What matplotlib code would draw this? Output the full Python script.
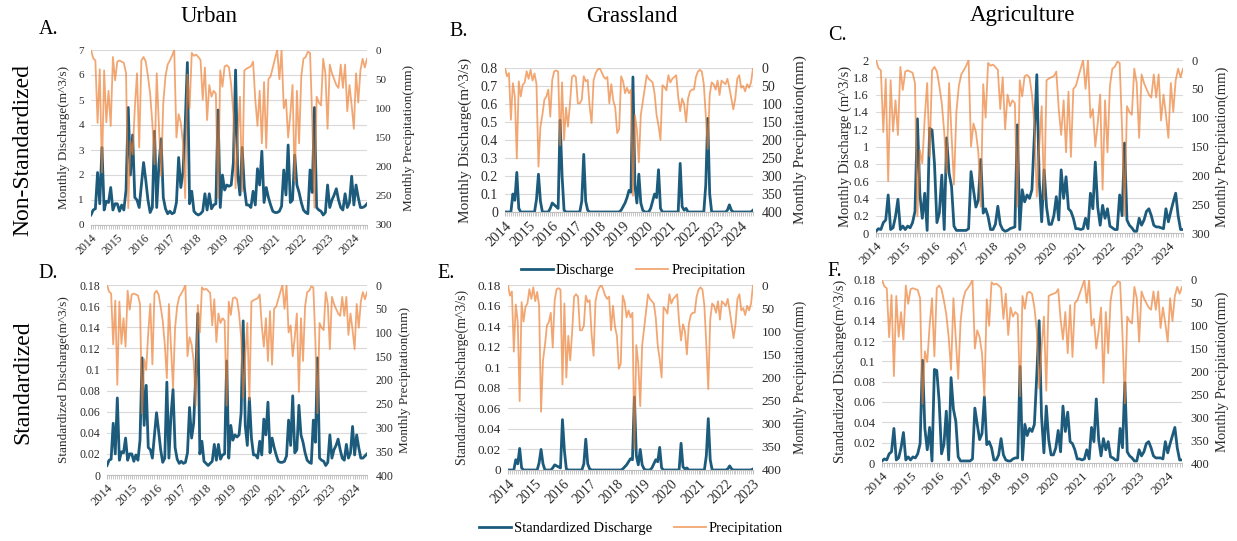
import numpy as np
import matplotlib.pyplot as plt
from matplotlib.lines import Line2D

plt.rcParams['font.family'] = ['Liberation Serif', 'DejaVu Serif']

W, H = 1237, 541

years = [str(y) for y in range(2014, 2025)]
years_e = [str(y) for y in range(2014, 2024)]

# monthly precipitation (mm), Jan 2014 - Jul 2024
# urban and agriculture panels share the same rainfall record
precip_ua = [0, 14, 18, 125, 33, 210, 35, 124, 70, 130, 12, 52,
             20, 18, 20, 22, 40, 271, 156, 179, 100, 40, 167, 18,
             12, 20, 45, 75, 125, 196, 40, 130, 216, 90, 45, 25,
             18, 10, 0, 150, 110, 125, 160, 254, 42, 100, 5, 10,
             8, 12, 17, 85, 30, 120, 60, 80, 70, 75, 254, 35,
             63, 28, 26, 30, 60, 110, 237, 150, 80, 242, 35, 32,
             30, 28, 20, 85, 130, 70, 160, 55, 168, 50, 45, 30,
             15, 0, 50, 0, 100, 85, 150, 110, 60, 225, 70, 160,
             45, 15, 12, 3, 5, 120, 270, 80, 90, 95, 15, 40,
             135, 25, 40, 50, 60, 65, 25, 65, 25, 105, 60, 95,
             135, 40, 90, 35, 15, 30, 15]

precip_grass = [0, 23, 14, 144, 42, 79, 251, 37, 79, 47, 40, 9,
                30, 5, 35, 15, 45, 274, 163, 130, 88, 80, 60, 135,
                33, 9, 7, 10, 215, 40, 200, 110, 163, 100, 25, 20,
                25, 98, 98, 88, 23, 37, 33, 107, 153, 35, 15, 5,
                0, 10, 23, 30, 25, 98, 45, 90, 110, 181, 170, 23,
                37, 70, 55, 70, 60, 355, 130, 170, 262, 130, 94, 57,
                20, 30, 35, 40, 71, 130, 160, 200, 48, 53, 62, 20,
                40, 30, 25, 20, 80, 120, 85, 100, 150, 85, 65, 60,
                60, 25, 10, 5, 10, 45, 130, 225, 75, 40, 45, 60,
                35, 75, 35, 40, 45, 30, 55, 85, 115, 85, 30, 20,
                55, 50, 65, 45, 55, 40, 0]

# monthly discharge (m^3/s)
q_urban = [0.4, 0.6, 0.65, 2.1, 0.85, 3.1, 0.6, 0.95, 0.9, 1.5, 0.6, 0.85,
           0.85, 0.55, 0.8, 0.6, 1.4, 4.7, 2.0, 3.6, 1.1, 1.0, 0.7, 1.6,
           2.5, 1.8, 1.0, 0.5, 0.7, 3.75, 0.7, 2.4, 3.45, 1.1, 0.65, 0.45,
           0.55, 0.45, 0.5, 0.9, 2.7, 1.5, 2.1, 4.0, 6.5, 0.85, 1.35, 0.55,
           0.45, 0.4, 0.45, 0.55, 1.25, 0.6, 1.25, 0.65, 0.8, 0.85, 4.6, 0.7,
           2.0, 1.4, 1.6, 1.55, 1.6, 2.5, 6.2, 2.0, 1.2, 3.1, 1.5, 0.8,
           0.8, 0.7, 1.35, 0.8, 2.25, 1.6, 2.95, 0.9, 1.5, 1.1, 0.8, 0.55,
           0.5, 0.5, 0.55, 0.75, 2.2, 1.2, 3.2, 0.9, 1.0, 2.8, 1.6, 1.3,
           0.9, 0.6, 0.5, 0.45, 2.2, 1.3, 4.7, 0.7, 0.6, 0.55, 0.4, 0.5,
           1.6, 0.7, 1.0, 1.2, 1.45, 1.0, 0.7, 0.6, 1.25, 0.7, 0.9, 1.95,
           0.8, 1.6, 1.1, 0.7, 0.7, 0.75, 0.85]

q_grass = [0, 0, 0, 0, 0.1, 0.065, 0.22, 0.02, 0, 0, 0, 0,
           0, 0, 0, 0, 0.07, 0.21, 0.06, 0, 0, 0, 0, 0.02,
           0.05, 0.04, 0.03, 0.02, 0.51, 0.2, 0.01, 0, 0, 0, 0, 0,
           0, 0, 0, 0.06, 0.32, 0.06, 0.01, 0, 0, 0, 0, 0,
           0, 0, 0, 0, 0, 0, 0, 0, 0, 0, 0, 0.01,
           0.03, 0.05, 0.08, 0.12, 0.11, 0.75, 0.15, 0.05, 0.21, 0.05, 0.01, 0,
           0, 0, 0.02, 0.06, 0.1, 0.08, 0.235, 0.02, 0, 0, 0, 0,
           0, 0, 0, 0, 0, 0.27, 0.03, 0.01, 0.02, 0, 0, 0,
           0, 0, 0, 0, 0, 0, 0.15, 0.52, 0.1, 0, 0, 0,
           0, 0, 0, 0, 0, 0.01, 0.04, 0.01, 0, 0, 0, 0,
           0, 0, 0, 0, 0, 0, 0.01]

q_agri = [0.02, 0.05, 0.04, 0.12, 0.15, 0.44, 0.04, 0.06, 0.19, 0.39, 0.04, 0.08,
          0.04, 0.08, 0.06, 0.12, 0.25, 1.32, 0.45, 0.17, 0.46, 0.03, 1.21, 1.19,
          0.8, 0.12, 0.23, 0.67, 0.04, 1.1, 0.69, 0.54, 0.08, 0.03, 0.03, 0.03,
          0.03, 0.03, 0.05, 0.71, 0.5, 0.3, 0.38, 0.85, 0.23, 0.28, 0.19, 0.04,
          0.04, 0.1, 0.31, 0.1, 0.04, 0.02, 0.03, 0.05, 0.06, 0.07, 1.25, 0.04,
          0.5, 0.36, 0.44, 0.4, 0.5, 1.13, 1.83, 0.6, 0.13, 0.73, 0.3, 0.1,
          0.1, 0.2, 0.42, 0.15, 0.73, 0.4, 0.65, 0.28, 0.25, 0.17, 0.05, 0.05,
          0.04, 0.05, 0.17, 0.05, 0.46, 0.28, 0.82, 0.3, 0.09, 0.32, 0.17, 0.28,
          0.08, 0.06, 0.04, 0.04, 0.44, 0.2, 1.04, 0.15, 0.09, 0.06, 0.02, 0.02,
          0.17, 0.09, 0.15, 0.25, 0.28, 0.2, 0.09, 0.07, 0.07, 0.06, 0.05, 0.28,
          0.13, 0.25, 0.36, 0.46, 0.2, 0.04, 0.04]

# standardized discharge (m^3/s per unit area)
sq_urban = [0.009, 0.014, 0.015, 0.049, 0.020, 0.073, 0.014, 0.022, 0.021, 0.035, 0.014, 0.020,
            0.020, 0.013, 0.019, 0.014, 0.033, 0.111, 0.047, 0.085, 0.026, 0.024, 0.016, 0.038,
            0.059, 0.042, 0.024, 0.012, 0.016, 0.088, 0.016, 0.056, 0.081, 0.026, 0.015, 0.011,
            0.013, 0.011, 0.012, 0.021, 0.064, 0.035, 0.049, 0.094, 0.153, 0.020, 0.032, 0.013,
            0.011, 0.009, 0.011, 0.013, 0.029, 0.014, 0.029, 0.015, 0.019, 0.020, 0.108, 0.016,
            0.047, 0.033, 0.038, 0.036, 0.038, 0.059, 0.146, 0.047, 0.028, 0.073, 0.035, 0.019,
            0.019, 0.016, 0.032, 0.019, 0.053, 0.038, 0.069, 0.021, 0.035, 0.026, 0.019, 0.013,
            0.012, 0.012, 0.013, 0.018, 0.052, 0.028, 0.075, 0.021, 0.024, 0.066, 0.038, 0.031,
            0.021, 0.014, 0.012, 0.011, 0.052, 0.031, 0.111, 0.016, 0.014, 0.013, 0.009, 0.012,
            0.038, 0.016, 0.024, 0.028, 0.034, 0.024, 0.016, 0.014, 0.029, 0.016, 0.021, 0.046,
            0.019, 0.038, 0.026, 0.016, 0.016, 0.018, 0.020]

sq_grass = [0, 0, 0, 0, 0.010, 0.006, 0.021, 0.002, 0, 0, 0, 0,
            0, 0, 0, 0, 0.007, 0.020, 0.006, 0, 0, 0, 0, 0.002,
            0.005, 0.004, 0.003, 0.002, 0.049, 0.019, 0.001, 0, 0, 0, 0, 0,
            0, 0, 0, 0.006, 0.030, 0.006, 0.001, 0, 0, 0, 0, 0,
            0, 0, 0, 0, 0, 0, 0, 0, 0, 0, 0, 0.001,
            0.003, 0.005, 0.008, 0.011, 0.010, 0.071, 0.014, 0.005, 0.020, 0.005, 0.001, 0,
            0, 0, 0.002, 0.006, 0.010, 0.008, 0.022, 0.002, 0, 0, 0, 0,
            0, 0, 0, 0, 0, 0.026, 0.003, 0.001, 0.002, 0, 0, 0,
            0, 0, 0, 0, 0, 0, 0.014, 0.050, 0.010, 0, 0, 0,
            0, 0, 0, 0, 0, 0.001, 0.004, 0.001, 0, 0, 0, 0,
            0, 0, 0, 0, 0, 0, 0.001]

sq_agri = [0.002, 0.004, 0.003, 0.009, 0.011, 0.034, 0.003, 0.005, 0.015, 0.030, 0.003, 0.006,
           0.003, 0.006, 0.005, 0.009, 0.019, 0.101, 0.034, 0.013, 0.035, 0.002, 0.092, 0.091,
           0.061, 0.009, 0.018, 0.051, 0.003, 0.084, 0.053, 0.041, 0.006, 0.002, 0.002, 0.002,
           0.002, 0.002, 0.004, 0.054, 0.038, 0.023, 0.029, 0.065, 0.018, 0.021, 0.015, 0.003,
           0.003, 0.008, 0.024, 0.008, 0.003, 0.002, 0.002, 0.004, 0.005, 0.005, 0.095, 0.003,
           0.038, 0.027, 0.034, 0.031, 0.038, 0.086, 0.140, 0.046, 0.010, 0.056, 0.023, 0.008,
           0.008, 0.015, 0.032, 0.011, 0.056, 0.031, 0.050, 0.021, 0.019, 0.013, 0.004, 0.004,
           0.003, 0.004, 0.013, 0.004, 0.035, 0.021, 0.063, 0.023, 0.007, 0.024, 0.013, 0.021,
           0.006, 0.005, 0.003, 0.003, 0.034, 0.015, 0.079, 0.011, 0.007, 0.005, 0.002, 0.002,
           0.013, 0.007, 0.011, 0.019, 0.021, 0.015, 0.007, 0.005, 0.005, 0.005, 0.004, 0.021,
           0.010, 0.019, 0.027, 0.035, 0.015, 0.003, 0.003]

BLUE = '#1d5b7c'
ORANGE = '#ed7d31'
GRID = '#d9d9d9'
TXT = '#2b2b2b'


def fmt(v):
    s = f'{v:.2f}'.rstrip('0').rstrip('.')
    return s


def panel(fig, l, t, r, b, q, p, ymax, ystep, pmax, fs, lab, lab_x, rlab, rlab_x,
          fs_lab, xticks=None, xlabels=years):
    ax = fig.add_axes([l / W, 1 - b / H, (r - l) / W, (b - t) / H])
    x = np.arange(len(q))
    ax.plot(x, q, color=BLUE, lw=2.0, solid_joinstyle='round')
    ax.set_xlim(0, len(q) - 1)
    ax.set_ylim(0, ymax)
    yt = np.arange(0, ymax + ystep / 2, ystep)
    ax.set_yticks(yt)
    ax.set_yticklabels([fmt(v) for v in yt], fontsize=fs, color=TXT)
    ax.yaxis.grid(True, color=GRID, lw=0.8)
    ax.set_axisbelow(True)
    if xticks is None:
        xticks = np.arange(0, len(q), 12)
    ax.set_xticks(xticks)
    ax.set_xticklabels(xlabels, rotation=45, ha='right', rotation_mode='anchor',
                       fontsize=fs + 0.5, color=TXT)
    ax.set_xticks(x, minor=True)
    ax.tick_params(axis='x', which='both', length=3, color='#bfbfbf', pad=2)
    ax.tick_params(axis='y', length=0, pad=5)
    for s in ['top', 'left', 'right']:
        ax.spines[s].set_visible(False)
    ax.spines['bottom'].set_color('#bfbfbf')

    ax2 = ax.twinx()
    ax2.plot(x, p, color=ORANGE, lw=1.3, alpha=0.68)
    ax2.set_ylim(pmax, 0)
    pt = np.arange(0, pmax + 1, 50)
    ax2.set_yticks(pt)
    ax2.set_yticklabels([str(v) for v in pt], fontsize=fs, color=TXT)
    ax2.tick_params(axis='y', length=0, pad=6)
    for s in ax2.spines.values():
        s.set_visible(False)

    yc = 1 - (t + b) / 2 / H
    fig.text(lab_x / W, yc, lab, rotation=90, ha='center', va='center',
             fontsize=fs_lab, color=TXT)
    fig.text(rlab_x / W, yc, rlab, rotation=90, ha='center', va='center',
             fontsize=fs_lab, color=TXT)
    return ax


fig = plt.figure(figsize=(W / 100, H / 100), dpi=100)

rl = 'Monthly Precipitation(mm)'
panel(fig, 91, 50, 367, 225, q_urban, precip_ua, 7, 1, 300, 8,
      'Monthly Discharge(m^3/s)', 64, rl, 409, 9.5)
panel(fig, 505, 68, 753, 212, q_grass, precip_grass, 0.8, 0.1, 400, 10,
      'Monthly Discharge(m^3/s)', 465, rl, 800, 11)
panel(fig, 876, 60, 1183, 233, q_agri, precip_ua, 2, 0.2, 300, 9,
      'Monthly Discharge (m^3/s)', 845, rl, 1222, 10.5)
panel(fig, 107, 285, 367, 475, sq_urban, precip_ua, 0.18, 0.02, 400, 8.5,
      'Standardized Discharge(m^3/s)', 64, rl, 405, 9.5)
panel(fig, 508, 285, 753, 470, sq_grass, precip_grass, 0.18, 0.02, 400, 9.5,
      'Standardized Discharge(m^3/s)', 462, rl, 800, 10,
      xticks=np.linspace(0, len(sq_grass) - 1, 10), xlabels=years_e)
panel(fig, 882, 280, 1182, 463, sq_agri, precip_ua, 0.18, 0.02, 400, 9,
      'Standardized Discharge(m^3/s)', 840, rl, 1222, 10.5)

# column and row headings
for txt, xc in [('Urban', 209), ('Grassland', 632), ('Agriculture', 1022)]:
    fig.text(xc / W, 1 - 16 / H, txt, ha='center', va='center', fontsize=16.5)
for txt, xc, yc in [('A.', 49, 30), ('B.', 459, 32), ('C.', 837, 36),
                    ('D.', 48, 274), ('E.', 446, 274), ('F.', 835, 272)]:
    fig.text(xc / W, 1 - yc / H, txt, ha='center', va='center', fontsize=14.5)
fig.text(23 / W, 1 - 150 / H, 'Non-Standardized', rotation=90, ha='center',
         va='center', fontsize=17)
fig.text(23 / W, 1 - 382 / H, 'Standardized', rotation=90, ha='center',
         va='center', fontsize=17)

h_q = Line2D([], [], color=BLUE, lw=2)
h_p = Line2D([], [], color=ORANGE, lw=1.3, alpha=0.68)
fig.legend([h_q, h_p], ['Discharge', 'Precipitation'], loc='center',
           bbox_to_anchor=(633 / W, 1 - 270 / H), ncol=2, frameon=False,
           fontsize=10.5, handlelength=2.2, handletextpad=0.2, columnspacing=1.5)
fig.legend([h_q, h_p], ['Standardized Discharge', 'Precipitation'], loc='center',
           bbox_to_anchor=(631 / W, 1 - 528 / H), ncol=2, frameon=False,
           fontsize=10.5, handlelength=2.2, handletextpad=0.2, columnspacing=1.5)

fig.savefig('out.png', dpi=100)
